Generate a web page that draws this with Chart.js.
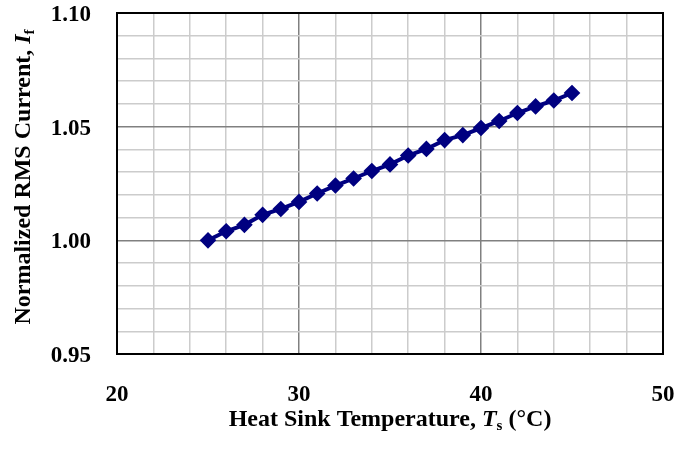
<!DOCTYPE html>
<html>
<head>
<meta charset="utf-8">
<script src="https://cdn.jsdelivr.net/npm/chart.js@4/dist/chart.umd.min.js"></script>
<style>
  html, body { margin: 0; padding: 0; background: #fff; }
  #wrap { width: 677px; height: 450px; }
</style>
</head>
<body>
<div id="wrap"><canvas id="chart"></canvas></div>
<script>
// heat sink temperature (°C)
const temps = [25, 26, 27, 28, 29, 30, 31, 32, 33, 34, 35, 36, 37, 38, 39, 40, 41, 42, 43, 44, 45];
// normalized rms current I_f
const current = [1.000, 1.004, 1.0068, 1.0112, 1.0138, 1.0169, 1.0206, 1.0241, 1.0272, 1.0305, 1.0334,
                 1.0373, 1.0402, 1.0441, 1.0463, 1.0494, 1.0525, 1.0560, 1.0589, 1.0615, 1.0648];
const xTicks = [20, 30, 40, 50];
const yTicks = [0.95, 1.00, 1.05, 1.10];

const serif = '"Liberation Serif", "Times New Roman", serif';
const isMajorX = v => xTicks.some(t => Math.abs(t - v) < 1e-6);
const isMajorY = v => yTicks.some(t => Math.abs(t - v) < 1e-6);

// draws a run of text pieces with their own fonts, centred on 0
function drawPieces(ctx, pieces) {
  let total = 0;
  pieces.forEach(p => { ctx.font = p.font; p.w = ctx.measureText(p.text).width; total += p.w; });
  let x = -total / 2;
  pieces.forEach(p => {
    ctx.font = p.font;
    ctx.fillText(p.text, x, p.dy || 0);
    x += p.w;
  });
}

const framePlugin = {
  id: 'frame',
  beforeDatasetsDraw(chart) {
    const {ctx, chartArea: a} = chart;
    ctx.save();
    ctx.strokeStyle = '#000';
    ctx.lineWidth = 2;
    ctx.strokeRect(a.left, a.top, a.right - a.left, a.bottom - a.top);
    ctx.restore();
  },
  afterDraw(chart) {
    const {ctx, chartArea: a} = chart;
    ctx.save();
    ctx.fillStyle = '#000';
    ctx.textBaseline = 'alphabetic';
    // x title
    ctx.save();
    ctx.translate((a.left + a.right) / 2, 426);
    drawPieces(ctx, [
      {text: 'Heat Sink Temperature, ', font: 'bold 24px ' + serif},
      {text: 'T', font: 'italic bold 24px ' + serif},
      {text: 's', font: 'bold 15px ' + serif, dy: 4},
      {text: ' (°C)', font: 'bold 24px ' + serif}
    ]);
    ctx.restore();
    // y title
    ctx.save();
    ctx.translate(30, 177);
    ctx.rotate(-Math.PI / 2);
    drawPieces(ctx, [
      {text: 'Normalized RMS Current, ', font: 'bold 24px ' + serif},
      {text: 'I', font: 'italic bold 24px ' + serif},
      {text: 'f', font: 'bold 15px ' + serif, dy: 4}
    ]);
    ctx.restore();
    ctx.restore();
  }
};

new Chart(document.getElementById('chart'), {
  type: 'scatter',
  data: {
    datasets: [{
      data: temps.map((t, i) => ({x: t, y: current[i]})),
      showLine: true,
      borderColor: '#000080',
      backgroundColor: '#000080',
      borderWidth: 4,
      pointStyle: 'rectRot',
      pointRadius: 5.5,
      pointHoverRadius: 5.5
    }]
  },
  options: {
    responsive: true,
    maintainAspectRatio: false,
    animation: false,
    layout: { padding: { top: 13, right: 14, left: 0, bottom: 0 } },
    plugins: { legend: { display: false }, tooltip: { enabled: false } },
    scales: {
      x: {
        type: 'linear',
        min: 20, max: 50,
        afterFit: s => { s.height = 96; s.paddingLeft = 0; s.paddingRight = 0; },
        border: { display: true, color: '#000', width: 2 },
        grid: {
          drawTicks: false,
          lineWidth: 1.5,
          color: c => isMajorX(c.tick.value) ? '#808080' : '#cccccc'
        },
        ticks: {
          stepSize: 2,
          autoSkip: false,
          maxRotation: 0,
          padding: 27,
          color: '#000',
          font: { family: serif, size: 23, weight: 'bold' },
          callback: v => isMajorX(v) ? String(v) : ''
        }
      },
      y: {
        type: 'linear',
        min: 0.95, max: 1.10,
        afterFit: s => { s.width = 117; s.paddingTop = 0; s.paddingBottom = 0; },
        border: { display: true, color: '#000', width: 2 },
        grid: {
          drawTicks: false,
          lineWidth: 1.5,
          color: c => isMajorY(c.tick.value) ? '#808080' : '#cccccc'
        },
        ticks: {
          stepSize: 0.01,
          autoSkip: false,
          padding: 26,
          labelOffset: 2,
          color: '#000',
          font: { family: serif, size: 23, weight: 'bold' },
          callback: v => isMajorY(v) ? v.toFixed(2) : ''
        }
      }
    }
  },
  plugins: [framePlugin]
});
</script>
</body>
</html>
